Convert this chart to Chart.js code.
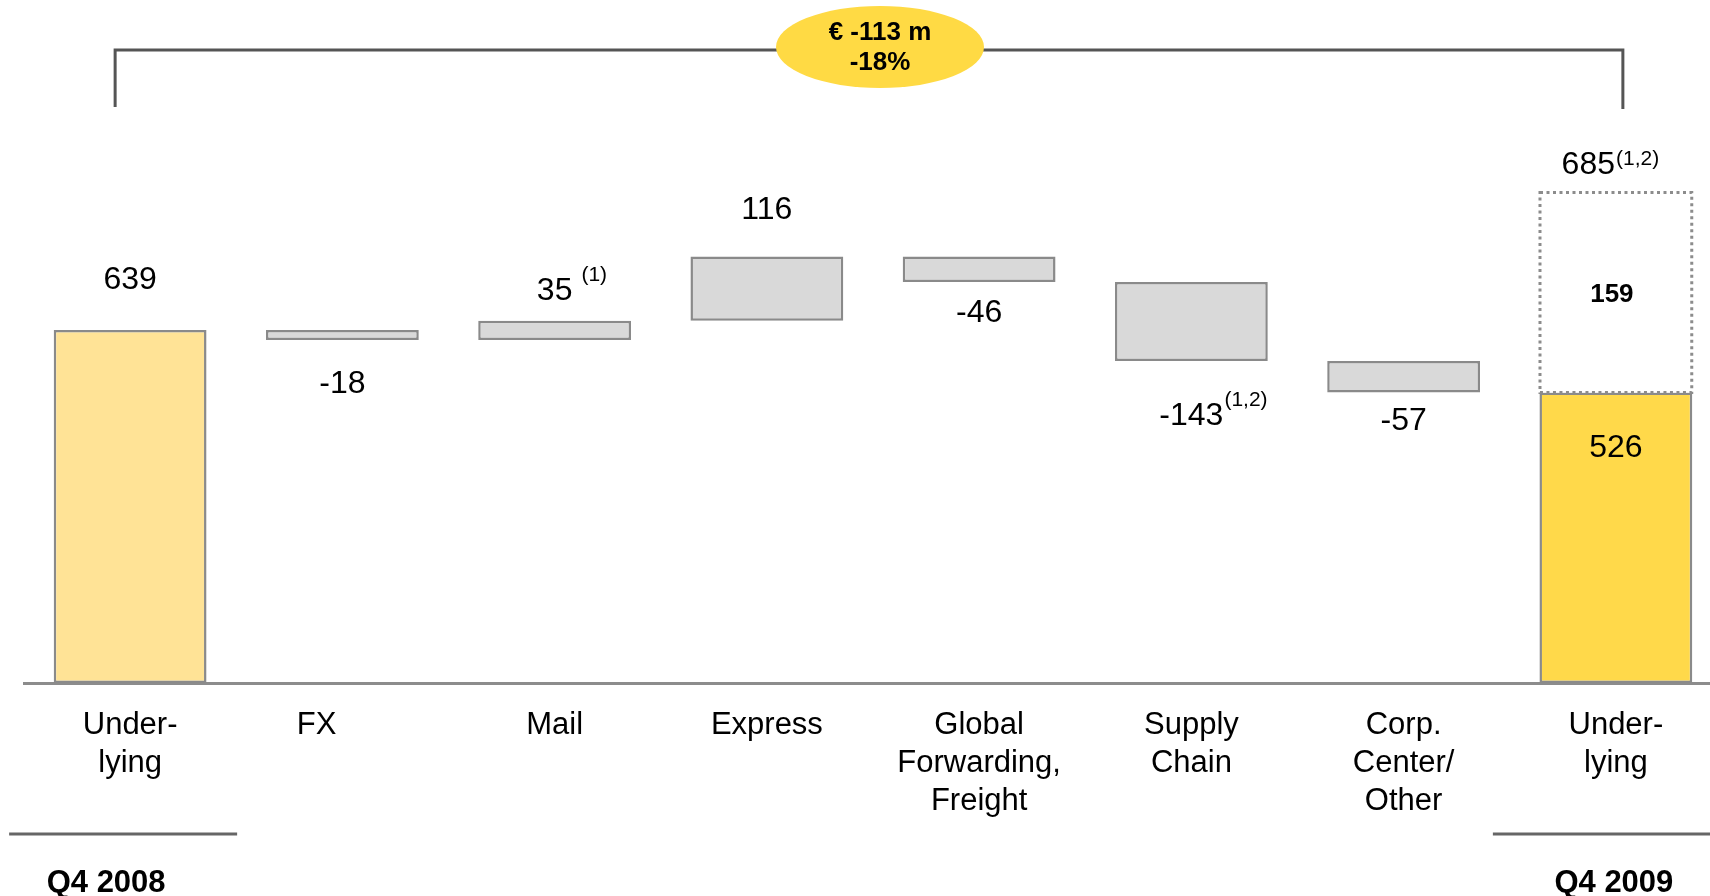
<!DOCTYPE html>
<html>
<head>
<meta charset="utf-8">
<script src="https://cdn.jsdelivr.net/npm/chart.js@4.4.1/dist/chart.umd.min.js"></script>
<style>
  html, body { margin: 0; padding: 0; background: #fff; overflow: hidden; }
  #wrap { position: relative; width: 1722px; height: 896px; }
</style>
</head>
<body>
<div id="wrap"><canvas id="chart"></canvas></div>
<script>
// EBIT bridge, Q4 2008 -> Q4 2009 (EUR m)
const categories = [
  ["Under-", "lying"],
  ["FX      "],
  ["Mail"],
  ["Express"],
  ["Global", "Forwarding,", "Freight"],
  ["Supply", "Chain"],
  ["Corp.", "Center/", "Other"],
  ["Under-", "lying"],
];
const startValue = 639;
const changes = [-18, 35, 116, -46, -143, -57];
const endValue = 526;
const valueLabels = ["639", "-18", "35", "116", "-46", "-143", "-57", "526"];
const footnotes = ["", "", "(1)", "", "", "(1,2)", "", ""];
const addBackLabel = "159";
const addBackTop = 888; // top of the dotted box as drawn in the picture
const totalLabel = "685";
const totalNote = "(1,2)";
const periodLabels = ["Q4 2008", "Q4 2009"];
const deltaLines = ["€ -113 m", "-18%"];
const yMax = 1146;
const bracketLevels = [1146, 1043];

const FONT = "'Liberation Sans', Arial, sans-serif";

// build floating bars from the running total
const floating = [[0, startValue]];
let running = startValue;
changes.forEach((c) => {
  floating.push([running, running + c]);
  running += c;
});
floating.push([0, endValue]);

const dottedData = categories.map((_, i) => (i === categories.length - 1 ? [endValue, addBackTop] : null));

const fills = categories.map((_, i) => {
  if (i === 0) return "#FFE396";
  if (i === categories.length - 1) return "#FFD94A";
  return "#D9D9D9";
});

// where each value label sits relative to its bar: side and gap in px
const labelPlace = [
  ["above", 50], ["below", 44], ["above", 29], ["above", 46],
  ["below", 31], ["below", 55], ["below", 29], ["inside", 56],
];

const overlay = {
  id: "overlay",
  afterDatasetsDraw(chart) {
    const { ctx } = chart;
    const bars = chart.getDatasetMeta(0).data;
    const dotted = chart.getDatasetMeta(1).data[categories.length - 1];

    ctx.save();
    // dotted add-back box
    if (dotted) {
      const left = dotted.x - dotted.width / 2;
      const top = Math.min(dotted.y, dotted.base);
      const h = Math.abs(dotted.base - dotted.y);
      ctx.setLineDash([3, 3.5]);
      ctx.lineWidth = 3;
      ctx.strokeStyle = "#8c8c8c";
      ctx.strokeRect(left, top, dotted.width, h);
      ctx.setLineDash([]);
      ctx.fillStyle = "#000";
      ctx.font = `bold 26px ${FONT}`;
      ctx.textAlign = "center";
      ctx.textBaseline = "middle";
      ctx.fillText(addBackLabel, dotted.x - 4, top + h / 2 + 2);

      // total above the dotted box
      ctx.font = `32px ${FONT}`;
      const w1 = ctx.measureText(totalLabel).width;
      ctx.font = `21px ${FONT}`;
      const w2 = ctx.measureText(totalNote).width;
      const gx = dotted.x - 6 - (w1 + w2) / 2;
      const gy = top - 27;
      ctx.textAlign = "left";
      ctx.font = `32px ${FONT}`;
      ctx.fillText(totalLabel, gx, gy);
      ctx.font = `21px ${FONT}`;
      ctx.fillText(totalNote, gx + w1 + 1, gy - 6);
    }

    // value labels
    bars.forEach((bar, i) => {
      const top = Math.min(bar.y, bar.base);
      const bottom = Math.max(bar.y, bar.base);
      const [side, gap] = labelPlace[i];
      let y;
      if (side === "above") y = top - gap;
      else if (side === "below") y = bottom + gap;
      else y = top + gap;
      ctx.fillStyle = "#000";
      ctx.font = `32px ${FONT}`;
      ctx.textAlign = "center";
      ctx.textBaseline = "middle";
      ctx.fillText(valueLabels[i], bar.x, y);
      if (footnotes[i]) {
        const w = ctx.measureText(valueLabels[i]).width;
        ctx.font = `21px ${FONT}`;
        ctx.textAlign = "left";
        const space = i === 2 ? 9 : 1;
        ctx.fillText(footnotes[i], bar.x + w / 2 + space, y - 16);
      }
    });
    ctx.restore();
  },
  afterDraw(chart) {
    const { ctx } = chart;
    const xs = chart.scales.x;
    const ys = chart.scales.y;
    const x0 = xs.getPixelForValue(0);
    const x7 = xs.getPixelForValue(categories.length - 1);
    const yTop = ys.getPixelForValue(bracketLevels[0]);
    const yLeg = ys.getPixelForValue(bracketLevels[1]);

    ctx.save();
    // bracket
    ctx.strokeStyle = "#555";
    ctx.lineWidth = 3;
    ctx.beginPath();
    ctx.moveTo(x0 - 15, yLeg);
    ctx.lineTo(x0 - 15, yTop);
    ctx.lineTo(x7 + 7, yTop);
    ctx.lineTo(x7 + 7, yLeg + 2);
    ctx.stroke();

    // bubble with the total change
    const cx = (x0 + x7) / 2 + 7;
    const cy = yTop - 3;
    ctx.fillStyle = "#FFDA44";
    ctx.beginPath();
    ctx.ellipse(cx, cy, 104, 41, 0, 0, Math.PI * 2);
    ctx.fill();
    ctx.fillStyle = "#000";
    ctx.font = `bold 26px ${FONT}`;
    ctx.textAlign = "center";
    ctx.textBaseline = "middle";
    ctx.fillText(deltaLines[0], cx, cy - 14);
    ctx.fillText(deltaLines[1], cx, cy + 16);

    // period rules and labels
    const ruleY = 834;
    ctx.strokeStyle = "#666";
    ctx.lineWidth = 3;
    ctx.beginPath();
    ctx.moveTo(x0 - 121, ruleY);
    ctx.lineTo(x0 + 107, ruleY);
    ctx.moveTo(x7 - 123, ruleY);
    ctx.lineTo(x7 + 110, ruleY);
    ctx.stroke();
    ctx.font = `bold 31px ${FONT}`;
    ctx.fillText(periodLabels[0], x0 - 24, 883);
    ctx.fillText(periodLabels[1], x7 - 2, 883);
    ctx.restore();
  },
};

new Chart(document.getElementById("chart"), {
  type: "bar",
  data: {
    labels: categories,
    datasets: [
      {
        data: floating,
        backgroundColor: fills,
        borderColor: "#8a8a8a",
        borderWidth: 2.5,
        borderSkipped: false,
        grouped: false,
        barPercentage: 0.72,
        categoryPercentage: 1,
        order: 2,
      },
      {
        data: dottedData,
        backgroundColor: "#ffffff",
        borderWidth: 0,
        grouped: false,
        barPercentage: 0.715,
        categoryPercentage: 1,
        order: 1,
      },
    ],
  },
  options: {
    responsive: true,
    maintainAspectRatio: false,
    animation: false,
    layout: { padding: { left: 24, right: 0, top: 50, bottom: 0 } },
    scales: {
      x: {
        grid: { display: false, drawTicks: false },
        border: { display: true, color: "#8c8c8c", width: 3 },
        ticks: {
          color: "#000",
          padding: 24,
          font: { family: FONT, size: 31, lineHeight: 1.22 },
          maxRotation: 0,
          autoSkip: false,
        },
        afterFit(scale) {
          scale.height = 213;
        },
      },
      y: {
        display: false,
        min: 0,
        max: yMax,
      },
    },
    plugins: {
      legend: { display: false },
      tooltip: { enabled: false },
    },
  },
  plugins: [overlay],
});
</script>
</body>
</html>
